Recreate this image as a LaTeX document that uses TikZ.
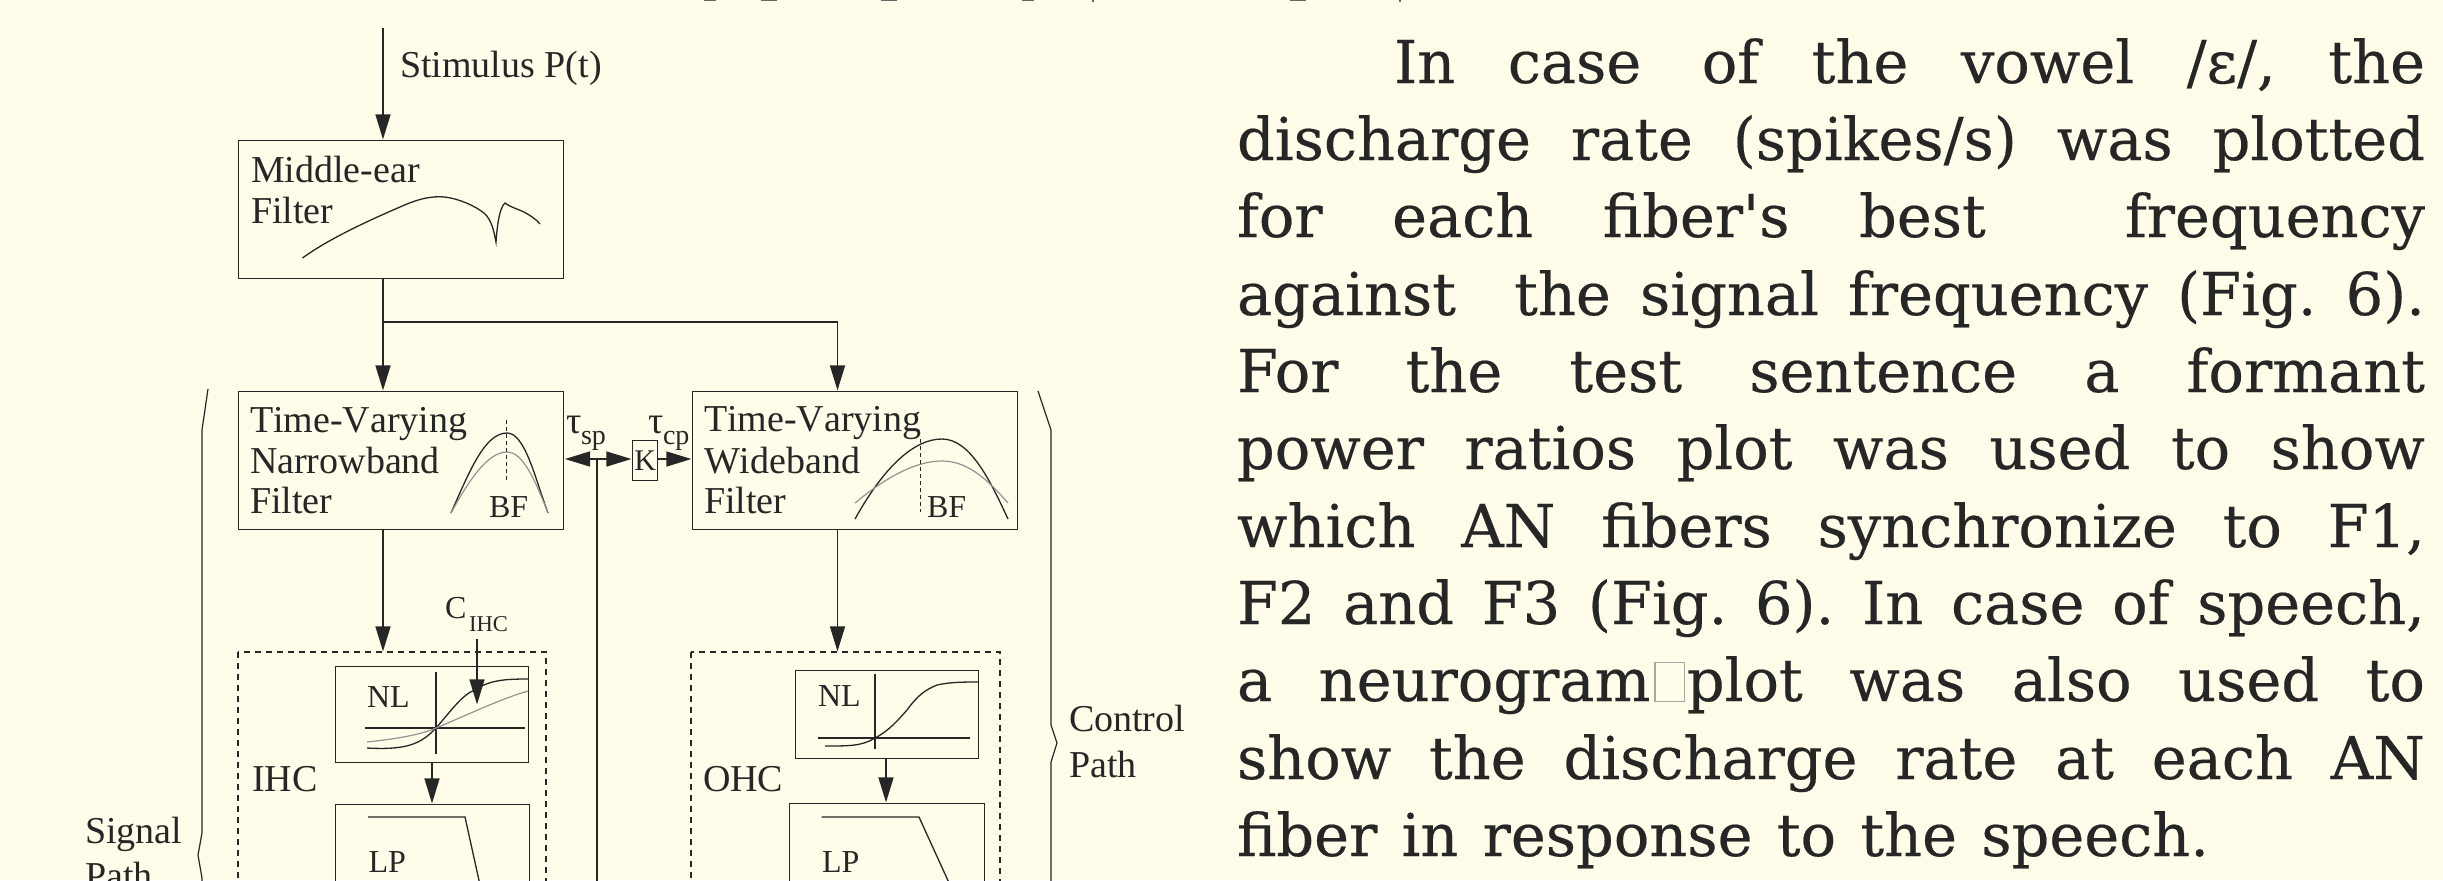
\documentclass[tikz,border=0pt]{standalone}
\usepackage{fontspec}
\setmainfont[Kerning=Off]{Liberation Serif}
\newfontfamily\bodyfont[FakeBold=0.35]{DejaVu Serif}
\usetikzlibrary{arrows.meta}
\definecolor{paper}{HTML}{FFFDE9}
\definecolor{ink}{HTML}{262626}
\tikzset{
  x=0.5pt,y=-0.5pt,
  wire/.style={draw=ink,line width=0.7pt},
  flow/.style={wire,-{Triangle[length=12.5pt,width=7.5pt]},shorten >=0.3pt},
  boxed/.style={draw=ink,line width=0.7pt},
  dashbox/.style={draw=ink,line width=0.6pt,dash pattern=on 3pt off 2.5pt},
  greycurve/.style={draw=gray!85,line width=0.6pt},
  inkcurve/.style={draw=ink,line width=0.65pt},
  big/.style={anchor=base west,inner sep=0pt,outer sep=0pt,font=\fontsize{19}{22}\selectfont,text=ink},
  small/.style={anchor=base west,inner sep=0pt,outer sep=0pt,font=\fontsize{16}{19}\selectfont,text=ink},
  bodyline/.style={anchor=base west,inner sep=0pt,outer sep=0pt,font=\bodyfont\frenchspacing\fontsize{29.5}{30}\selectfont,text=ink},
  cutmark/.style={fill=ink!70},
}
\newcommand{\jline}[1]{\makebox[594pt][s]{#1}}
\begin{document}
\begin{tikzpicture}
\useasboundingbox (0,0) rectangle (2443,880);
\fill[paper] (0,0) rectangle (2443,880);
\begin{scope}
\clip (0,0) rectangle (2443,880);

% feet of the line cut off by the upper edge
\fill[cutmark] (704,0) rectangle (716,1);
\fill[cutmark] (761,0) rectangle (777,1);
\fill[cutmark] (881,0) rectangle (897,1);
\fill[cutmark] (1022,0) rectangle (1034,1);
\fill[cutmark] (1092,0) rectangle (1094,2);
\fill[cutmark] (1290,0) rectangle (1306,1);
\fill[cutmark] (1399,0) rectangle (1401,1.5);

% main boxes
\node[boxed,minimum width=162.5pt,minimum height=69pt,inner sep=0pt,anchor=north west] (me) at (238,140) {};
\node[boxed,minimum width=162.5pt,minimum height=69pt,inner sep=0pt,anchor=north west] (nb) at (238,391) {};
\node[boxed,minimum width=162.5pt,minimum height=69pt,inner sep=0pt,anchor=north west] (wb) at (692,391) {};
\node[boxed,minimum width=12.5pt,minimum height=20pt,inner sep=0pt,anchor=north west] (k) at (632,440) {};
\node[inner sep=0pt,font=\fontsize{15}{15}\selectfont,text=ink] at (k.center) {K};

% dashed groups, running past the lower edge
\coordinate (ihcnw) at (238,652);
\coordinate (ihcse) at (546,900);
\coordinate (ohcnw) at (691,652);
\coordinate (ohcse) at (1000,900);
\draw[dashbox] (ihcnw) rectangle (ihcse);
\draw[dashbox] (ohcnw) rectangle (ohcse);

% NL boxes
\node[boxed,minimum width=96.5pt,minimum height=48pt,inner sep=0pt,anchor=north west] (inl) at (335,666) {};
\node[boxed,minimum width=91.5pt,minimum height=44pt,inner sep=0pt,anchor=north west] (onl) at (795,670) {};
% LP boxes
\node[boxed,minimum width=97pt,minimum height=60pt,inner sep=0pt,anchor=north west] (ilp) at (335,804) {};
\node[boxed,minimum width=97.5pt,minimum height=60pt,inner sep=0pt,anchor=north west] (olp) at (789,803) {};

% connectors
\coordinate (st) at (383,28);
\coordinate (j) at (383,322);
\coordinate (jr) at (837.5,322);
\draw[flow] (st) -- (me.north -| st);
\draw[flow] (me.south -| st) -- (nb.north -| st);
\draw[flow] (j) -- (jr) -- (wb.north -| jr);
\coordinate (ihctop) at (383,652);
\coordinate (ohctop) at (837.5,652);
\draw[flow] (nb.south -| st) -- (ihctop);
\draw[flow] (wb.south -| jr) -- (ohctop);
\coordinate (cross) at (597,459);
\coordinate (crossb) at (597,900);
\draw[wire] (cross) -- (crossb);
\draw[flow] (cross) -- (nb.east |- cross);
\draw[flow] (cross) -- (k.west |- cross);
\draw[flow] (k.east |- cross) -- (wb.west |- cross);
\coordinate (cs) at (477,639);
\coordinate (ce) at (477,705);
\draw[flow] (cs) -- (ce);
\coordinate (a1) at (432,762);
\draw[flow] (a1) -- (ilp.north -| a1);
\coordinate (a2) at (886,759);
\draw[flow] (a2) -- (olp.north -| a2);

% texts
\node[big] (t1) at (400,77) {Stimulus P(t)};
\node[big] (t2) at (251,182) {Middle-ear};
\node[big] (t3) at (251,223) {Filter};
\node[big] (t4) at (250,432) {Time-Varying};
\node[big] (t5) at (250,473) {Narrowband};
\node[big] (t6) at (250,513) {Filter};
\node[big] (t7) at (704,431) {Time-Varying};
\node[big] (t8) at (704,473) {Wideband};
\node[big] (t9) at (704,513) {Filter};
\node[small] (b1) at (489,517) {BF};
\node[small] (b2) at (927,517) {BF};
\node[big] (t10) at (566,433) {τ};
\node[small,font=\fontsize{14}{14}\selectfont] (t11) at (581,444) {sp};
\node[big] (t12) at (648,433) {τ};
\node[small,font=\fontsize{14}{14}\selectfont] (t13) at (663,444) {cp};
\node[small] (c1) at (445,618) {C};
\node[small,font=\fontsize{11.3}{12}\selectfont] (c2) at (469,631) {IHC};
\node[small] (n1) at (367,707) {NL};
\node[small] (n2) at (818,706) {NL};
\node[big] (i1) at (252,791) {IHC};
\node[big] (o1) at (703,791) {OHC};
\node[small] (l1) at (368.5,872) {LP};
\node[small] (l2) at (822,872) {LP};
\node[big] (s1) at (85,843) {Signal};
\node[big] (s2) at (85,888) {Path};
\node[big] (p1) at (1069,731) {Control};
\node[big] (p2) at (1069,777) {Path};

% middle-ear curve
\draw[inkcurve] (302.5,258) .. controls (330,238) and (370,220) .. (400,207) .. controls (420,198) and (432,196) .. (445,197) .. controls (460,199) and (475,206) .. (484,213) .. controls (492,220) and (494,232) .. (496,242) .. controls (497,228) and (499,208) .. (505,203) .. controls (512,208) and (518,209) .. (524,212) .. controls (531,216) and (536,219) .. (540,224);

% narrowband filter shape
\draw[inkcurve] (451,513) .. controls (470,470) and (485,433) .. (507,433) .. controls (525,433) and (535,478) .. (548,513);
\draw[greycurve] (451,513) .. controls (468,482) and (487,452) .. (507,452) .. controls (523,452) and (535,480) .. (548,513);
\draw[ink,line width=0.5pt,dash pattern=on 2pt off 1.5pt] (506,420) -- (506,482);

% wideband filter shape
\draw[inkcurve] (855,519) .. controls (885,465) and (915,439) .. (942,439) .. controls (970,439) and (990,480) .. (1008,519);
\draw[greycurve] (855,503) .. controls (885,478) and (915,461) .. (942,461) .. controls (968,461) and (988,480) .. (1008,503);
\draw[ink,line width=0.5pt,dash pattern=on 2pt off 1.5pt] (920,439) -- (920,512);

% IHC NL
\draw[wire] (436,672) -- (436,754);
\draw[wire] (365,728) -- (525,728);
\draw[inkcurve] (367,748) .. controls (405,750) and (420,745) .. (436,728) .. controls (450,712) and (462,695) .. (474.5,690) .. controls (490,680) and (505,679) .. (528,679);
\draw[greycurve] (367,742) .. controls (395,739) and (420,735) .. (436,728) .. controls (465,716) and (500,699) .. (528,691);

% OHC NL
\draw[wire] (875,674) -- (875,749);
\draw[wire] (818,738) -- (970,738);
\draw[inkcurve] (825,746) .. controls (850,746) and (862,746) .. (875,738) .. controls (890,730) and (898,720) .. (907,710) .. controls (918,695) and (925,690) .. (937,685) .. controls (950,682) and (965,682) .. (978,682);

% LP shapes
\draw[inkcurve] (368,817) -- (465,817) -- (480,885);
\draw[inkcurve] (821.5,817) -- (919,817) -- (950,885);

% braces
\draw[wire,line width=0.6pt] (208,389) -- (202,430) -- (202,833) -- (198,855) -- (202,878) -- (202,900);
\draw[wire,line width=0.6pt] (1038,391) -- (1051,430) -- (1051,725) -- (1057,743) -- (1051,762) -- (1051,900);

% body text
\node[bodyline] (b0) at (1394,83) {\makebox[515.5pt][s]{In case\ \kern4pt of the vowel /ε/, the}};
\node[bodyline] (b1l) at (1237,160) {\jline{discharge rate (spikes/s) was plotted}};
\node[bodyline] (b2l) at (1237,237) {\jline{for each fiber's best\ \ frequency}};
\node[bodyline] (b3l) at (1237,315) {\jline{against\ \ the signal frequency (Fig. 6).}};
\node[bodyline] (b4l) at (1237,392) {\jline{For the test sentence a formant}};
\node[bodyline] (b5l) at (1237,469) {\jline{power ratios plot was used to show}};
\node[bodyline] (b6l) at (1237,547) {\jline{which AN fibers synchronize to F1,}};
\node[bodyline] (b7l) at (1237,624) {\jline{F2 and F3 (Fig. 6). In case of speech,}};
\node[bodyline] (b8l) at (1237,701) {\jline{a neurogram{\fboxsep=0pt\fboxrule=0.6pt\kern2pt\fcolorbox{gray!70}{white!92!yellow}{\rule{0pt}{19pt}\rule{14pt}{0pt}}\kern1pt}plot was also used to}};
\node[bodyline] (b9l) at (1237,779) {\jline{show the discharge rate at each AN}};
\node[bodyline] (b10l) at (1237,856) {\makebox[486pt][s]{fiber in response to the speech.}};
\end{scope}
\end{tikzpicture}
\end{document}
